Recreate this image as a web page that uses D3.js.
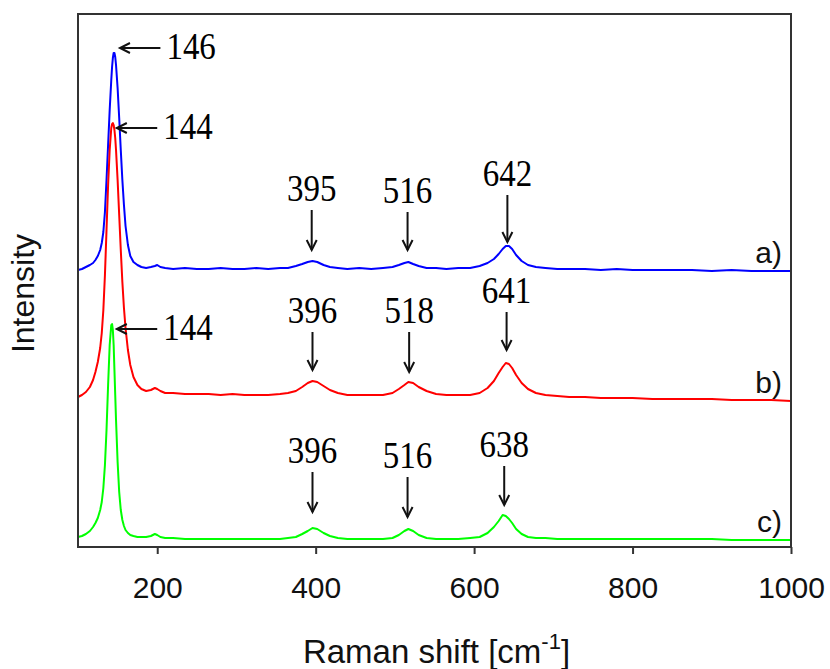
<!DOCTYPE html>
<html>
<head>
<meta charset="utf-8">
<script src="https://cdn.jsdelivr.net/npm/d3@7"></script>
<style>
  html, body { margin: 0; padding: 0; background: #fff; }
  svg { display: block; }
</style>
</head>
<body>
<svg id="chart" width="830" height="669"></svg>
<script>
/* ============================================================
   Raman spectra a) b) c) – D3 line chart
   ============================================================ */

// Raman shift (cm-1), shared by the three spectra
const shift = [
  100, 105, 110, 115, 119, 122, 125, 128, 130, 132,
  134, 136, 138, 140, 142, 143, 144, 145, 146, 147,
  148, 150, 152, 154, 156, 158, 160, 163, 166, 170,
  175, 180, 186, 192, 197, 200, 204, 210, 220, 235,
  250, 265, 280, 295, 310, 325, 340, 355, 365, 375,
  383, 390, 396, 402, 410, 418, 428, 440, 455, 470,
  485, 497, 505, 512, 517, 523, 530, 540, 552, 565,
  580, 595, 607, 617, 625, 631, 636, 640, 644, 648,
  653, 660, 668, 678, 690, 705, 720, 740, 760, 780,
  800, 825, 850, 875, 900, 925, 950, 975, 1000
];

// intensities (arb. units, spectra already offset)
const intensityA = [
  277, 278, 280, 282, 284, 287, 291, 297, 304, 315,
  335, 367, 402, 437, 467, 480, 489, 494, 494, 490,
  482, 459, 429, 397, 367, 342, 321, 302, 291, 285,
  282, 280, 279, 280, 281, 282, 280, 279, 278, 279,
  278, 278, 279, 278, 278, 279, 278, 279, 279, 281,
  283, 285, 286, 285, 282, 280, 279, 278, 279, 278,
  279, 280, 282, 284, 285, 283, 281, 279, 279, 278,
  279, 279, 281, 284, 288, 293, 298, 301, 301, 298,
  292, 286, 282, 280, 279, 278, 278, 278, 277, 278,
  277, 277, 277, 277, 276, 277, 276, 276, 276
];
const intensityB = [
  150, 152, 155, 160, 167, 175, 185, 199, 214, 237,
  272, 317, 362, 397, 419, 423, 424, 422, 417, 409,
  397, 367, 332, 297, 265, 239, 219, 197, 182, 170,
  162, 158, 156, 157, 159, 158, 156, 154, 154, 153,
  153, 153, 152, 153, 152, 152, 152, 153, 154, 156,
  160, 164, 166, 165, 161, 157, 154, 152, 152, 152,
  152, 154, 158, 162, 165, 164, 160, 156, 153, 152,
  152, 152, 154, 159, 166, 174, 180, 184, 183, 179,
  172, 164, 158, 154, 152, 151, 150, 150, 149, 149,
  149, 148, 148, 148, 148, 147, 147, 147, 146
];
const intensityC = [
  10, 11, 13, 16, 20, 24, 29, 37, 45, 59,
  82, 117, 162, 202, 222, 223, 217, 202, 177, 152,
  127, 85, 55, 37, 27, 21, 17, 14, 12, 11,
  10, 10, 10, 11, 13, 12, 10, 9, 9, 8,
  8, 8, 8, 8, 8, 8, 8, 8, 9, 10,
  13, 16, 19, 18, 14, 11, 9, 8, 8, 8,
  8, 9, 12, 16, 18, 16, 12, 9, 8, 8,
  8, 9, 10, 14, 20, 26, 32, 31, 28, 24,
  18, 13, 10, 9, 9, 8, 8, 8, 8, 8,
  8, 8, 8, 8, 8, 7, 7, 7, 7
];

const seriesNames  = ['a)', 'b)', 'c)'];
const seriesColors = ['#0000ff', '#ff0000', '#00ff00'];
const xTicks = [200, 400, 600, 800, 1000];

// down-arrow peak labels: label = shift, tail / tip in intensity units
const peakLabels = ['395', '516', '642', '396', '518', '641', '396', '516', '638'];
const peakTail   = [337, 335, 352, 215, 215, 235, 75, 70, 81];
const peakTip    = [297, 297, 305, 177, 175, 197, 35, 30, 42];

// left-arrow labels of the main band
const bandLabels    = ['146', '144', '144'];
const bandLevel     = [499, 419, 218];
const bandTipShift  = [153, 149, 149];
const bandTailShift = [204, 200, 200];

const W = 830, H = 669;
const M = { top: 14, right: 39, bottom: 122, left: 78 };

const svg = d3.select('#chart');

const x = d3.scaleLinear().domain([100, 1000]).range([M.left, W - M.right]);
const y = d3.scaleLinear().domain([0, 533]).range([H - M.bottom, M.top]);

const SANS  = '"Liberation Sans", Arial, sans-serif';
const SERIF = '"Liberation Serif", "Times New Roman", serif';
const AXIS  = '#333';

// axis ticks + labels
const xAxis = d3.axisBottom(x)
  .tickValues(xTicks).tickFormat(d3.format('d'))
  .tickSize(7).tickPadding(23).tickSizeOuter(0);
const gx = svg.append('g').attr('transform', `translate(0,${y(0)})`).call(xAxis);
gx.select('.domain').remove();
gx.selectAll('.tick line').attr('stroke', AXIS).attr('stroke-width', 2);
gx.selectAll('.tick text')
  .attr('fill', '#111')
  .style('font-family', SANS)
  .style('font-size', '30px');

// spectra
const series = [intensityA, intensityB, intensityC];
const line = d3.line().x(d => x(d[0])).y(d => y(d[1]));

series.forEach((vals, i) => {
  const pts = shift.map((s, k) => [s, vals[k]]);
  svg.append('path')
    .datum(pts)
    .attr('fill', 'none')
    .attr('stroke', seriesColors[i])
    .attr('stroke-width', 2)
    .attr('stroke-linejoin', 'round')
    .attr('d', line);

  // a) b) c) at right end
  svg.append('text')
    .attr('x', x(1000) - 9)
    .attr('y', y(vals[vals.length - 1]) - 8)
    .attr('text-anchor', 'end')
    .style('font-family', SANS)
    .style('font-size', '30px')
    .attr('fill', '#111')
    .text(seriesNames[i]);
});

// frame
svg.append('rect')
  .attr('x', x(100)).attr('y', y(533))
  .attr('width', x(1000) - x(100)).attr('height', y(0) - y(533))
  .attr('fill', 'none').attr('stroke', AXIS).attr('stroke-width', 2);

// annotations
const ann = svg.append('g').attr('stroke', '#111').attr('stroke-width', 2).attr('fill', 'none');
const HEAD_W = 5, HEAD_L = 10;

// serif numbers in the reference are a bit taller than wide
function serifLabel(px, py, txt, anchor) {
  svg.append('text')
    .attr('transform', `translate(${px},${py}) scale(1,1.12)`)
    .attr('text-anchor', anchor)
    .style('font-family', SERIF).style('font-size', '33px')
    .attr('fill', '#000')
    .text(txt);
}

peakLabels.forEach((lab, i) => {
  const ax = x(+lab);
  const y0 = y(peakTail[i]), y1 = y(peakTip[i]);
  ann.append('path').attr('d', `M${ax},${y0}V${y1}`);
  ann.append('path').attr('d', `M${ax - HEAD_W},${y1 - HEAD_L}L${ax},${y1}L${ax + HEAD_W},${y1 - HEAD_L}`);
  serifLabel(ax, y0 - 9, lab, 'middle');
});

bandLabels.forEach((lab, i) => {
  const ay = y(bandLevel[i]);
  const x0 = x(bandTailShift[i]), x1 = x(bandTipShift[i]);
  ann.append('path').attr('d', `M${x0},${ay}H${x1}`);
  ann.append('path').attr('d', `M${x1 + HEAD_L},${ay - HEAD_W}L${x1},${ay}L${x1 + HEAD_L},${ay + HEAD_W}`);
  serifLabel(x0 + 6, ay + 11, lab, 'start');
});

// axis titles
const xt = svg.append('text')
  .attr('x', (x(100) + x(1000)) / 2 + 2).attr('y', 663)
  .attr('text-anchor', 'middle')
  .style('font-family', SANS).style('font-size', '33px')
  .attr('fill', '#111');
xt.append('tspan').text('Raman shift [cm');
xt.append('tspan').attr('dy', -14).style('font-size', '22px').text('-1');
xt.append('tspan').attr('dy', 14).text(']');

svg.append('text')
  .attr('transform', `translate(34,${(y(0) + y(533)) / 2 + 13}) rotate(-90)`)
  .attr('text-anchor', 'middle')
  .style('font-family', SANS).style('font-size', '32px')
  .attr('fill', '#111')
  .text('Intensity');
</script>
</body>
</html>
